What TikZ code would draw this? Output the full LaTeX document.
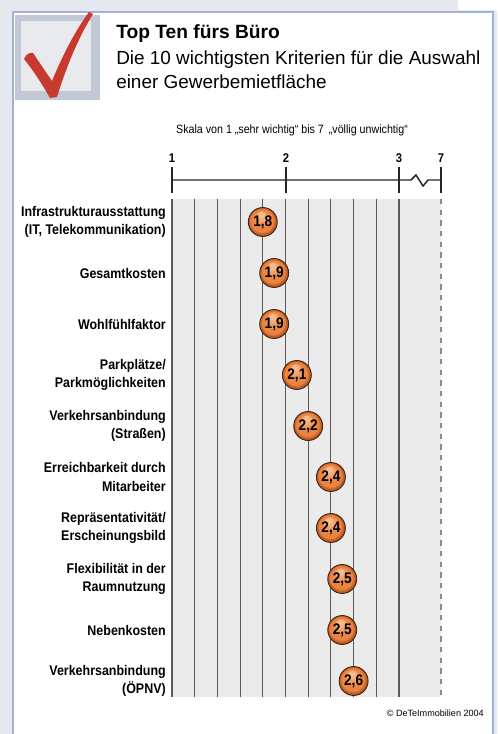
\documentclass[tikz,border=0pt]{standalone}
\usepackage{fontspec}
\setmainfont{Liberation Sans}
\newfontfamily\condf[FakeStretch=0.89]{Liberation Sans}
\definecolor{outerbg}{HTML}{E6E8EF}
\definecolor{framec}{HTML}{A3B1D8}
\definecolor{chartbg}{HTML}{EBEBEB}
\definecolor{gridc}{HTML}{5A5A5A}
\definecolor{checkred}{HTML}{C8392E}
\definecolor{boxout}{HTML}{C2C9D4}
\definecolor{boxin}{HTML}{E8EAEE}
\definecolor{ballhi}{HTML}{F8C9A0}
\definecolor{ballmid}{HTML}{EA8440}
\definecolor{balldark}{HTML}{A44A1A}
\definecolor{balledge}{HTML}{3E2214}
\begin{document}
\begin{tikzpicture}[x=0.75pt,y=-0.75pt,
  lbl/.style={anchor=east, align=right, inner sep=0pt, font=\condf\bfseries\fontsize{10.5}{13.9}\selectfont},
  ball/.style={circle, minimum size=21.75pt, inner sep=0pt, fill=balldark},
  balltxt/.style={inner sep=0pt, text=black, font=\condf\bfseries\fontsize{11.5}{12}\selectfont},
  gridl/.style={draw=gridc, line width=0.85pt},
  axisl/.style={draw=black!85, line width=1.1pt},
  num/.style={inner sep=0pt, font=\condf\bfseries\fontsize{9.5}{10}\selectfont}]
\useasboundingbox (0,0) rectangle (497,734);
\fill[outerbg] (0,0) rectangle (497,734);
\fill[white] (458,0) rectangle (497,10);
% panel
\fill[white] (13,12) rectangle (493,734);
\draw[framec, line width=1.5pt] (13,734) -- (13,12) -- (493,12) -- (493,734);
% check box
\fill[boxout] (15,15) rectangle (100,100);
\fill[boxin] (21,21) rectangle (91,91);
\fill[checkred] (24,59) .. controls (26,54) and (30,52) .. (33,53) -- (52,81)
  .. controls (64,52) and (76,30) .. (89,12) -- (93,14)
  .. controls (78,38) and (66,68) .. (57,97) -- (50,98)
  .. controls (42,84) and (33,70) .. cycle;
% titles
\node[anchor=base west, inner sep=0pt, font=\bfseries\fontsize{14.4}{17}\selectfont] (title) at (116,39) {Top Ten fürs Büro};
\node[anchor=base west, inner sep=0pt, font=\fontsize{14.2}{17}\selectfont] (sub1) at (116,65) {Die 10 wichtigsten Kriterien für die Auswahl};
\node[anchor=base west, inner sep=0pt, font=\fontsize{14.2}{17}\selectfont] (sub2) at (116,89) {einer Gewerbemietfläche};
\node[inner sep=0pt, font=\condf\fontsize{9}{10}\selectfont] (scale) at (292,130) {Skala von 1 „sehr wichtig“ bis 7 \,„völlig unwichtig“};
% chart background and grid
\fill[chartbg] (172,199) rectangle (441,697);
\foreach \i in {0,...,10} {
  \draw[gridl] ({172+22.7*\i},199) -- ({172+22.7*\i},697);
}
\draw[draw=black!45, line width=0.9pt, dash pattern=on 4pt off 4pt] (441,199) -- (441,697);
% axis
\draw[axisl] (172,180) -- (411,180) -- (416,175) -- (423,186) -- (428,180) -- (441,180);
\foreach \t/\v in {172/1,286/2,399/3,441/7} {
  \draw[axisl] (\t,167) -- (\t,193);
  \node[num] (n\v) at (\t,158) {\v};
}
% rows
\foreach \r/\v/\txt/\lab [count=\k from 0] in {
  1.8/{1,8}/{Infrastrukturausstattung\\(IT, Telekommunikation)}/a,
  1.9/{1,9}/{Gesamtkosten}/b,
  1.9/{1,9}/{Wohlfühlfaktor}/c,
  2.1/{2,1}/{Parkplätze/\\Parkmöglichkeiten}/d,
  2.2/{2,2}/{Verkehrsanbindung\\(Straßen)}/e,
  2.4/{2,4}/{Erreichbarkeit durch\\Mitarbeiter}/f,
  2.4/{2,4}/{Repräsentativität/\\Erscheinungsbild}/g,
  2.5/{2,5}/{Flexibilität in der\\Raumnutzung}/h,
  2.5/{2,5}/{Nebenkosten}/i,
  2.6/{2,6}/{Verkehrsanbindung\\(ÖPNV)}/j} {
  \pgfmathsetmacro{\yy}{222+51*\k}
  \pgfmathsetmacro{\xx}{172+(\r-1)*113.5}
  \node[lbl] (lab\lab) at (166,\yy) {\txt};
  \node[ball] (ball\lab) at (\xx,\yy) {};
  \foreach \s in {1,...,8} {
    \pgfmathsetmacro{\tt}{\s/8}
    \pgfmathsetmacro{\pc}{100*\tt}
    \pgfmathsetmacro{\rr}{0.75*(14.5-3*\tt)}
    \fill[ballmid!\pc!balldark] ([shift={({-0.5*\tt},{-1*\tt})}]ball\lab.center) circle[radius=\rr pt];
  }
  \foreach \s in {1,...,6} {
    \pgfmathsetmacro{\tt}{\s/6}
    \pgfmathsetmacro{\pc}{80*\tt}
    \pgfmathsetmacro{\rr}{0.75*(9-6*\tt)}
    \fill[ballhi!\pc!ballmid] ([shift={({-0.5-1*\tt},{-2-5*\tt})}]ball\lab.center) circle[radius=\rr pt];
  }
  \draw[balledge, line width=0.6pt] (ball\lab.center) circle[radius=10.875pt];
  \node[balltxt] (val\lab) at (ball\lab.center) {\v};
}
\node[anchor=east, inner sep=0pt, font=\fontsize{6.8}{8}\selectfont] (copy) at (484,713) {© DeTeImmobilien 2004};
\end{tikzpicture}
\end{document}
